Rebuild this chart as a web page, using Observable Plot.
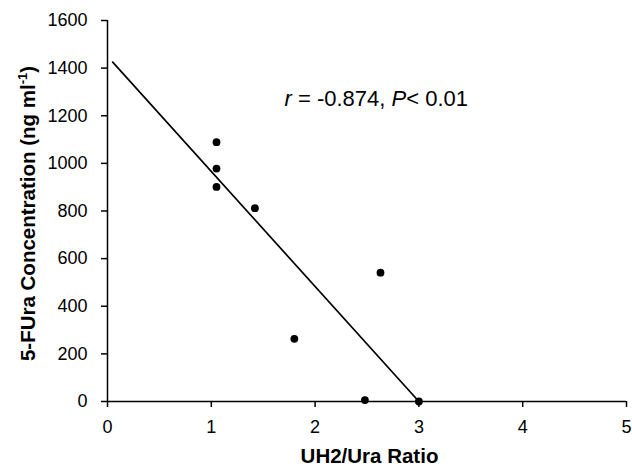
<!DOCTYPE html>
<html><head>
<meta charset="utf-8">
<script src="https://cdn.jsdelivr.net/npm/d3@7"></script>
<script src="https://cdn.jsdelivr.net/npm/@observablehq/plot@0.6"></script>
<style>body{margin:0;background:#fff}</style>
</head><body><div id="chart"></div>
<script>
// Data
const ratio = [1.05, 1.05, 1.05, 1.42, 1.80, 2.63, 2.48, 3.00];
const conc  = [1089, 978, 901, 812, 263, 541, 6, 0];
// regression line endpoints
const fitX = [0.05, 3.0];
const fitY = [1425, 0];
const xTicks = [0, 1, 2, 3, 4, 5];
const yTicks = [0, 200, 400, 600, 800, 1000, 1200, 1400, 1600];
const xTitle = "UH2/Ura Ratio";
const yTitleMain = "5-FUra Concentration (ng ml";
const yTitleSup = "-1";
const yTitleEnd = ")";

const points = ratio.map((x, i) => ({x, y: conc[i]}));
const fit = fitX.map((x, i) => ({x, y: fitY[i]}));
const font = "'Liberation Sans', Arial, Helvetica, sans-serif";

const plot = Plot.plot({
  width: 632, height: 470,
  marginLeft: 107, marginRight: 6, marginTop: 20, marginBottom: 69,
  style: {fontFamily: font, fontSize: "18px", color: "#000", background: "#fff"},
  x: {domain: [0, 5]},
  y: {domain: [0, 1600]},
  marks: [
    Plot.axisX({ticks: xTicks, tickFormat: "d", tickSize: 6, tickPadding: 13, label: null, strokeWidth: 1.5, fontSize: 18}),
    Plot.axisY({ticks: yTicks, tickFormat: "d", tickSize: 6, tickPadding: 14, label: null, strokeWidth: 1.5, fontSize: 18}),
    Plot.ruleX([0], {stroke: "#000", strokeWidth: 1.5}),
    Plot.ruleY([0], {stroke: "#000", strokeWidth: 1.5}),
    Plot.line(fit, {x: "x", y: "y", stroke: "#000", strokeWidth: 1.7}),
    Plot.dot(points, {x: "x", y: "y", r: 3.9, fill: "#000"})
  ]
});

const svg = d3.select(plot);
const sx = plot.scale("x"), sy = plot.scale("y");

// x title
svg.append("text")
  .attr("x", (sx.apply(0) + sx.apply(5)) / 2 + 3)
  .attr("y", 463)
  .attr("text-anchor", "middle")
  .attr("font-family", font).attr("font-weight", "bold").attr("font-size", 20.5)
  .text(xTitle);

// y title
const yt = svg.append("text")
  .attr("transform", `translate(35,${(sy.apply(0) + sy.apply(1600)) / 2 + 3}) rotate(-90)`)
  .attr("text-anchor", "middle")
  .attr("font-family", font).attr("font-weight", "bold").attr("font-size", 20.5);
yt.append("tspan").text(yTitleMain);
yt.append("tspan").attr("font-size", 13).attr("dy", -8).text(yTitleSup);
yt.append("tspan").attr("dy", 8).text(yTitleEnd);

// annotation
const an = svg.append("text")
  .attr("x", sx.apply(1.71)).attr("y", sy.apply(1238))
  .attr("text-anchor", "start")
  .attr("font-family", font).attr("font-size", 22);
an.append("tspan").attr("font-style", "italic").text("r");
an.append("tspan").text(" = -0.874, ");
an.append("tspan").attr("font-style", "italic").text("P");
an.append("tspan").text("< 0.01");

document.getElementById("chart").append(plot);
</script>
</body></html>
